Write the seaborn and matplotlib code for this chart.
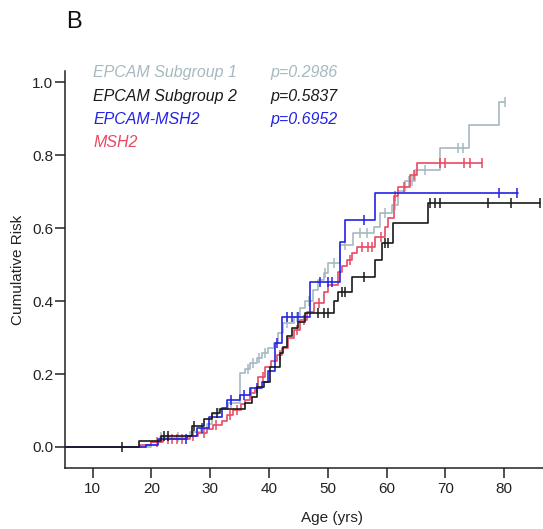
import numpy as np
import pandas as pd
import matplotlib
matplotlib.use("Agg")
import matplotlib.pyplot as plt
import seaborn as sns


# EPCAM Subgroup 1
SUB1_AGES = [20.0, 21.5, 26.6, 28.5, 29.5, 30.3, 31.3, 33.0, 35.1, 36.0, 36.8, 37.9,
             38.8, 39.9, 40.8, 41.6, 42.4, 44.2, 45.3, 46.2, 47.5, 48.4, 49.3, 50.0,
             52.1, 54.3, 57.8, 58.9, 60.9, 62.0, 63.1, 64.9, 69.1, 74.0, 79.1]
SUB1_RISK = [0.013, 0.028, 0.04, 0.05, 0.063, 0.09, 0.104, 0.12, 0.202, 0.215, 0.23, 0.244,
             0.257, 0.271, 0.284, 0.312, 0.34, 0.357, 0.38, 0.399, 0.431, 0.458, 0.477, 0.504,
             0.555, 0.587, 0.604, 0.641, 0.664, 0.701, 0.728, 0.76, 0.82, 0.883, 0.947]
SUB1_CENSOR = [21.7, 24.5, 33.5, 36.4, 37.3, 38.3, 39.4, 43.0, 44.8, 46.8, 49.6, 51.1,
               53.0, 55.5, 56.7, 59.8, 61.5, 63.8, 64.3, 66.5, 72.2, 73.0, 80.2]
SUB1_END = 80.2

# EPCAM Subgroup 2
SUB2_AGES = [17.96, 21.7, 26.9, 28.9, 30.3, 31.7, 36.0, 37.1, 37.9, 39.1, 40.2, 41.9,
             42.3, 43.0, 43.9, 45.0, 46.2, 51.0, 51.8, 54.1, 58.0, 59.2, 61.1, 67.1]
SUB2_RISK = [0.017, 0.031, 0.058, 0.077, 0.092, 0.104, 0.12, 0.138, 0.165, 0.179, 0.22, 0.257,
             0.275, 0.303, 0.326, 0.344, 0.367, 0.399, 0.426, 0.467, 0.513, 0.56, 0.614, 0.668]
SUB2_CENSOR = [14.95, 22.1, 22.9, 27.3, 31.1, 48.4, 49.3, 50.1, 52.4, 53.0, 56.1, 59.8,
               60.3, 67.4, 68.3, 69.0, 77.2, 81.2, 86.1]
SUB2_END = 86.1

# EPCAM-MSH2
EM_AGES = [19.0, 21.1, 26.1, 27.7, 29.8, 32.0, 32.8, 35.1, 36.8, 38.8, 39.9, 41.1,
           42.2, 47.0, 52.0, 53.0, 58.0]
EM_RISK = [0.005, 0.022, 0.031, 0.051, 0.083, 0.107, 0.129, 0.143, 0.161, 0.179, 0.207, 0.284,
           0.357, 0.453, 0.563, 0.623, 0.696]
EM_CENSOR = [25.9, 28.6, 33.6, 35.8, 38.0, 41.4, 43.0, 43.9, 45.0, 48.6, 50.1, 50.7,
             56.1, 79.2, 82.2]
EM_END = 82.4

# MSH2
MSH2_AGES = [18.1, 19.9, 22.0, 26.6, 28.0, 29.5, 30.5, 32.0, 32.9, 33.9, 35.2, 36.0,
             36.8, 37.7, 38.2, 39.4, 40.3, 41.3, 42.2, 43.3, 44.2, 45.3, 46.5, 47.6,
             49.3, 50.1, 51.8, 52.4, 53.2, 54.1, 55.0, 58.0, 59.7, 60.3, 61.2, 62.0,
             64.0, 65.2]
MSH2_RISK = [0.005, 0.014, 0.022, 0.03, 0.038, 0.048, 0.06, 0.072, 0.088, 0.1, 0.118, 0.13,
             0.147, 0.161, 0.193, 0.22, 0.236, 0.252, 0.271, 0.298, 0.321, 0.348, 0.371, 0.394,
             0.426, 0.444, 0.481, 0.495, 0.513, 0.531, 0.549, 0.577, 0.604, 0.627, 0.687, 0.714,
             0.746, 0.778]
MSH2_CENSOR = [21.0, 22.8, 23.5, 24.3, 25.2, 27.0, 29.0, 31.0, 33.3, 34.5, 37.0, 39.0,
               41.8, 44.7, 46.0, 48.5, 53.7, 55.8, 56.8, 57.5, 59.0, 61.5, 63.0, 64.6,
               69.1, 69.9, 73.1, 74.1, 76.2]
MSH2_END = 76.2

GROUP_NAMES = ["EPCAM Subgroup 1", "EPCAM Subgroup 2", "EPCAM-MSH2", "MSH2"]
P_VALUES = ["p=0.2986", "p=0.5837", "p=0.6952", ""]
COLORS = ["#a6b9c0", "#1a1a1a", "#2323e6", "#e84a62"]


def step_frame(name, ages, risk, end):
    x = [0.0] + list(ages) + [end]
    y = [0.0] + list(risk) + [risk[-1]]
    return pd.DataFrame({"group": name, "age": x, "risk": y})


def censor_risk(ages, risk, censor):
    steps_x = np.array([0.0] + list(ages))
    steps_y = np.array([0.0] + list(risk))
    idx = np.searchsorted(steps_x, censor, side="right") - 1
    return steps_y[idx]


def main():
    sns.set_style("ticks")
    plt.rcParams["font.family"] = ["Liberation Sans", "DejaVu Sans"]

    curves = [
        (SUB1_AGES, SUB1_RISK, SUB1_CENSOR, SUB1_END),
        (SUB2_AGES, SUB2_RISK, SUB2_CENSOR, SUB2_END),
        (EM_AGES, EM_RISK, EM_CENSOR, EM_END),
        (MSH2_AGES, MSH2_RISK, MSH2_CENSOR, MSH2_END),
    ]

    fig = plt.figure(figsize=(5.43, 5.29), dpi=100)
    ax = fig.add_axes([0.1197, 0.1144, 0.8803, 0.7514])

    draw_order = [0, 3, 2, 1]
    for i in draw_order:
        ages, risk, censor, end = curves[i]
        df = step_frame(GROUP_NAMES[i], ages, risk, end)
        sns.lineplot(
            data=df, x="age", y="risk",
            drawstyle="steps-post", estimator=None,
            color=COLORS[i], linewidth=1.2, ax=ax, legend=False,
        )
        ax.plot(
            censor, censor_risk(ages, risk, censor),
            linestyle="none", marker="|", markersize=6.5,
            markeredgewidth=1.1, color=COLORS[i],
        )

    ax.set_xlim(5.3, 86.6)
    ax.set_ylim(-0.059, 1.031)
    ax.set_xticks(range(10, 90, 10))
    ax.set_yticks([0.0, 0.2, 0.4, 0.6, 0.8, 1.0])
    ax.set_yticklabels(["0.0", "0.2", "0.4", "0.6", "0.8", "1.0"])
    ax.tick_params(axis="both", length=7, width=1.1, labelsize=11, color="#222222",
                   labelcolor="#222222")
    ax.tick_params(axis="y", pad=1.5)
    ax.tick_params(axis="x", pad=3)
    sns.despine(ax=ax)
    for side in ["left", "bottom"]:
        ax.spines[side].set_linewidth(1.1)
        ax.spines[side].set_color("#222222")

    ax.set_xlabel("Age (yrs)", fontsize=11, color="#222222")
    ax.set_ylabel("Cumulative Risk", fontsize=11, color="#222222")
    ax.xaxis.set_label_coords(0.5586, -0.1245)
    ax.xaxis.label.set_va("center")
    ax.yaxis.set_label_coords(-0.098, 0.5)
    ax.yaxis.label.set_va("center")

    legend_y = [0.995, 0.937, 0.878, 0.819]
    for name, pval, color, ly in zip(GROUP_NAMES, P_VALUES, COLORS, legend_y):
        ax.text(0.0586, ly, name, transform=ax.transAxes, color=color,
                fontsize=11.5, style="italic", va="center", ha="left")
        if pval:
            ax.text(0.4289, ly, pval, transform=ax.transAxes, color=color,
                    fontsize=11.5, style="italic", va="center", ha="left")

    fig.text(66 / 543, 1 - 22 / 529, "B", fontsize=17, color="#111111",
             va="center", ha="left")

    fig.savefig("out.png", dpi=100)
    plt.close(fig)


if __name__ == "__main__":
    main()
